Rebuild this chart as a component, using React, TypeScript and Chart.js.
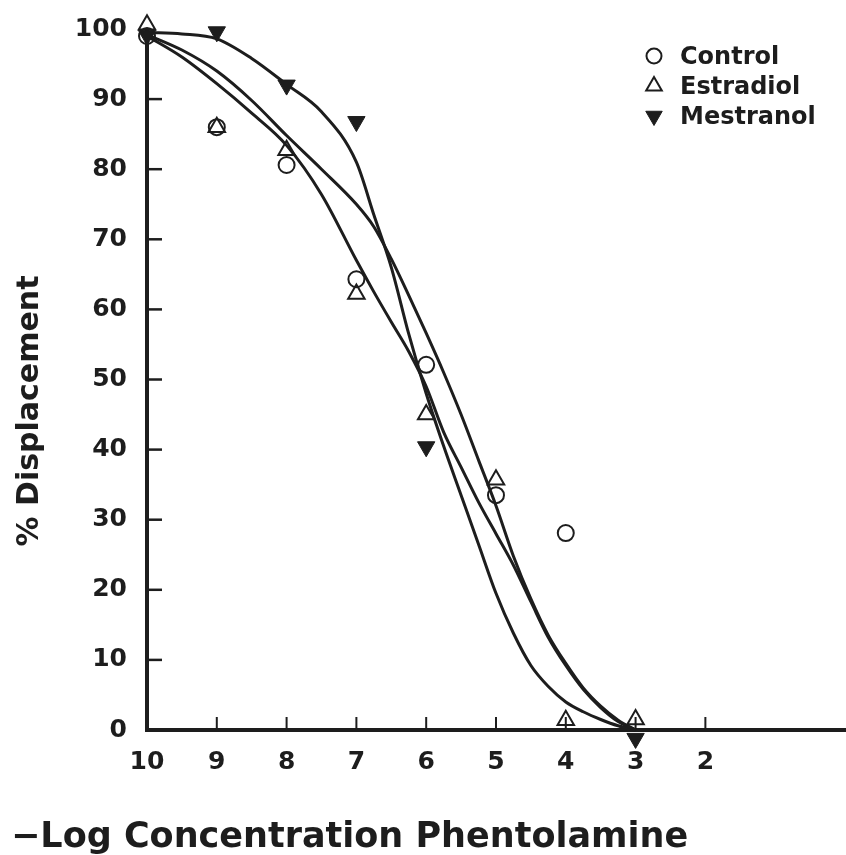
import React, { useEffect, useRef } from 'react';
import { Chart, registerables } from 'chart.js';
import { drawPoint } from 'chart.js/helpers';

Chart.register(...registerables);

// ---- data ----
const xTicks = [10, 9, 8, 7, 6, 5, 4, 3, 2];
const yTicks = [0, 10, 20, 30, 40, 50, 60, 70, 80, 90, 100];

const doseX = [10, 9, 8, 7, 6, 5, 4, 3];
const controlY = [99, 86, 80.6, 64.3, 52.1, 33.5, 28.1, null];
const estradiolY = [100.6, 86, 82.7, 62.2, 45, 35.7, 1.4, 1.5];
const mestranolY = [99.1, 99.6, 92, 86.8, 40.4, null, null, -1.2];

const curveX = [10, 9.5, 9, 8.5, 8, 7.5, 7, 6.75, 6.5, 6.25, 6, 5.75, 5.5, 5.25, 5, 4.75, 4.5, 4.25, 4, 3.75, 3.5, 3.25, 3];
const controlFit = [99.2, 97, 94, 89.8, 84.8, 80, 75, 71.8, 67.2, 62, 56.6, 51, 45, 38.5, 32, 24.8, 18.7, 13.5, 9.5, 6, 3.4, 1.4, 0];
const estradiolFit = [99, 96, 92.2, 88, 83.4, 76.4, 67, 62.5, 58.2, 54, 49, 42.5, 37.5, 32.5, 28, 23.5, 18.3, 13.2, 9.2, 5.8, 3.2, 1.2, 0];
const mestranolFit = [99.5, 99.3, 98.6, 95.8, 92.1, 88.2, 81, 73.5, 66, 56.5, 48, 40.5, 33.5, 26.5, 19.5, 13.8, 9.2, 6.2, 4, 2.6, 1.5, 0.6, 0];

const legendLabels = ['Control', 'Estradiol', 'Mestranol'];

const INK = '#1d1d1d';
const FONT = '"DejaVu Sans", sans-serif';

const pts = (xs: number[], ys: (number | null)[]) =>
  xs.map((x, i) => ({ x, y: ys[i] })).filter((p) => p.y !== null) as { x: number; y: number }[];

const markerStyles = [
  { pointStyle: 'circle', radius: 8, rotation: 0, fill: 'rgba(0,0,0,0)', borderWidth: 2 },
  { pointStyle: 'triangle', radius: 9.5, rotation: 0, fill: 'rgba(0,0,0,0)', borderWidth: 2 },
  { pointStyle: 'triangle', radius: 10, rotation: 180, fill: INK, borderWidth: 1 },
];

const decor = {
  id: 'decor',
  beforeDatasetsDraw(chart: any) {
    const { ctx, scales } = chart;
    const x = scales.x;
    const y = scales.y;
    const x0 = x.getPixelForValue(10);
    const y0 = y.getPixelForValue(0);
    ctx.save();
    ctx.strokeStyle = INK;
    ctx.lineWidth = 4;
    ctx.beginPath();
    ctx.moveTo(x0, y.getPixelForValue(100));
    ctx.lineTo(x0, y0 + 2);
    ctx.stroke();
    ctx.beginPath();
    ctx.moveTo(x0 - 2, y0);
    ctx.lineTo(chart.width, y0);
    ctx.stroke();
    ctx.lineWidth = 2.5;
    yTicks.forEach((v) => {
      if (v === 0 || v === 100) return;
      const py = y.getPixelForValue(v);
      ctx.beginPath();
      ctx.moveTo(x0, py);
      ctx.lineTo(x0 + 15, py);
      ctx.stroke();
    });
    ctx.lineWidth = 2;
    xTicks.forEach((v) => {
      if (v === 10) return;
      const px = x.getPixelForValue(v);
      ctx.beginPath();
      ctx.moveTo(px, y0);
      ctx.lineTo(px, y0 - 13);
      ctx.stroke();
    });
    ctx.restore();
  },
  afterDraw(chart: any) {
    const { ctx } = chart;
    ctx.save();
    // legend
    legendLabels.forEach((label, i) => {
      const m = markerStyles[i];
      const cy = 55 + i * 30;
      ctx.fillStyle = m.fill;
      ctx.strokeStyle = INK;
      ctx.lineWidth = m.borderWidth;
      drawPoint(ctx, { pointStyle: m.pointStyle, rotation: m.rotation, radius: m.radius - 0.5, borderWidth: m.borderWidth } as any, 654, cy + 1);
      ctx.fillStyle = INK;
      ctx.font = `bold 24px ${FONT}`;
      ctx.textAlign = 'left';
      ctx.textBaseline = 'alphabetic';
      ctx.fillText(label, 680, cy + 9);
    });
    // x title
    ctx.fillStyle = INK;
    ctx.font = `bold 35px ${FONT}`;
    ctx.textAlign = 'left';
    ctx.textBaseline = 'alphabetic';
    ctx.fillText('\u2212Log Concentration Phentolamine', 11, 847);
    // y title
    ctx.font = `bold 30px ${FONT}`;
    ctx.translate(38, 411);
    ctx.rotate(-Math.PI / 2);
    ctx.textAlign = 'center';
    ctx.fillText('% Displacement', 0, 0);
    ctx.restore();
  },
};

export default function App() {
  const ref = useRef<HTMLCanvasElement | null>(null);
  useEffect(() => {
    if (!ref.current) return;
    const markerDs = [controlY, estradiolY, mestranolY].map((ys, i) => ({
      label: legendLabels[i],
      data: pts(doseX, ys),
      showLine: false,
      pointStyle: markerStyles[i].pointStyle,
      pointRadius: markerStyles[i].radius,
      pointRotation: markerStyles[i].rotation,
      pointBackgroundColor: markerStyles[i].fill,
      pointBorderColor: INK,
      pointBorderWidth: markerStyles[i].borderWidth,
      clip: false as any,
    }));
    const curveDs = [controlFit, estradiolFit, mestranolFit].map((ys, i) => ({
      label: legendLabels[i] + ' fit',
      data: pts(curveX, ys),
      showLine: true,
      pointRadius: 0,
      borderColor: INK,
      borderWidth: 3,
      cubicInterpolationMode: 'monotone',
      fill: false,
      clip: false as any,
    }));
    const chart = new Chart(ref.current, {
      type: 'scatter',
      data: { datasets: [...markerDs, ...curveDs] as any },
      options: {
        animation: false,
        responsive: false,
        layout: { padding: { top: 29, right: 0, bottom: 0, left: 0 } },
        plugins: { legend: { display: false }, tooltip: { enabled: false } },
        scales: {
          x: {
            type: 'linear',
            reverse: true,
            min: 0.15,
            max: 10,
            grid: { display: false, drawTicks: false },
            border: { display: false },
            afterBuildTicks: (s: any) => {
              s.ticks = xTicks.map((v) => ({ value: v }));
            },
            afterFit: (s: any) => {
              s.height = 125;
              s.paddingLeft = 0;
              s.paddingRight = 0;
              s.paddingTop = 0;
              s.paddingBottom = 0;
            },
            ticks: { color: INK, font: { family: FONT, size: 25, weight: 'bold' }, padding: 17, maxRotation: 0, autoSkip: false },
          },
          y: {
            type: 'linear',
            min: 0,
            max: 100,
            grid: { display: false, drawTicks: false },
            border: { display: false },
            afterBuildTicks: (s: any) => {
              s.ticks = yTicks.map((v) => ({ value: v }));
            },
            afterFit: (s: any) => {
              s.width = 147;
              s.paddingLeft = 0;
              s.paddingRight = 0;
              s.paddingTop = 0;
              s.paddingBottom = 0;
            },
            ticks: { color: INK, font: { family: FONT, size: 25, weight: 'bold' }, padding: 20 },
          },
        },
      },
      plugins: [decor],
    });
    return () => chart.destroy();
  }, []);
  return (
    <div style={{ position: 'fixed', left: 0, top: 0, width: 846, height: 855, background: '#fff' }}>
      <canvas ref={ref} width={846} height={855} style={{ width: 846, height: 855, display: 'block' }} />
    </div>
  );
}
